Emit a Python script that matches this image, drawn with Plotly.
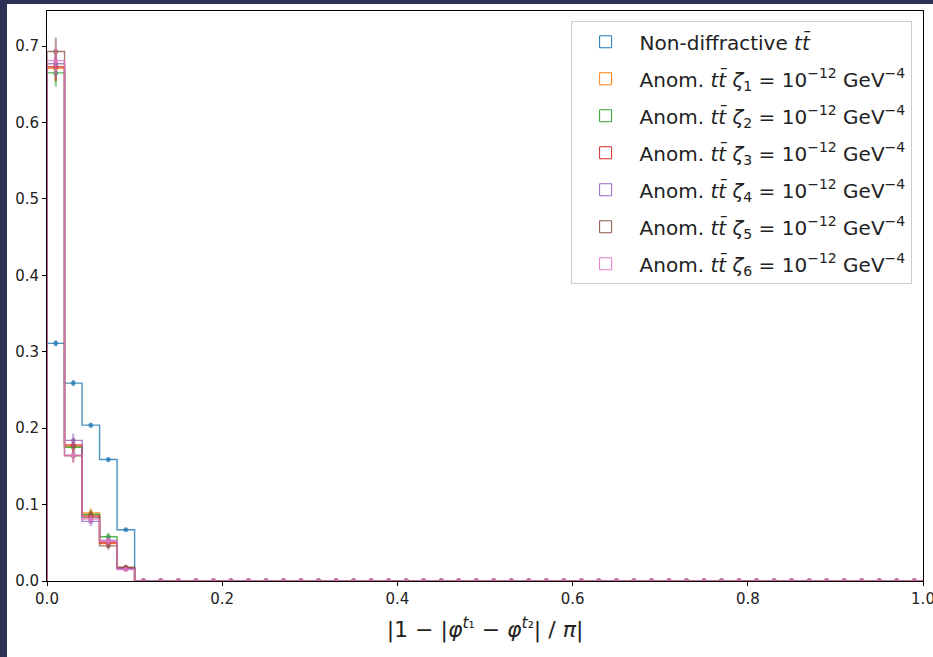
import numpy as np
import plotly.graph_objects as go

# ---- data ----
bin_edges = np.round(np.linspace(0.0, 1.0, 51), 4)
series_names = [
    "Non-diffractive <i>tt̄</i>",
    "Anom. <i>tt̄ ζ</i><sub>1</sub> = 10<sup>−12</sup> GeV<sup>−4</sup>",
    "Anom. <i>tt̄ ζ</i><sub>2</sub> = 10<sup>−12</sup> GeV<sup>−4</sup>",
    "Anom. <i>tt̄ ζ</i><sub>3</sub> = 10<sup>−12</sup> GeV<sup>−4</sup>",
    "Anom. <i>tt̄ ζ</i><sub>4</sub> = 10<sup>−12</sup> GeV<sup>−4</sup>",
    "Anom. <i>tt̄ ζ</i><sub>5</sub> = 10<sup>−12</sup> GeV<sup>−4</sup>",
    "Anom. <i>tt̄ ζ</i><sub>6</sub> = 10<sup>−12</sup> GeV<sup>−4</sup>",
]
colors = ["#1f77b4", "#ff7f0e", "#2ca02c", "#d62728", "#9467bd", "#8c564b", "#e377c2"]

# non-zero leading bins (remaining bins are zero)
nondiff_vals = [0.311, 0.259, 0.204, 0.159, 0.067]
zeta1_vals = [0.671, 0.176, 0.089, 0.049, 0.017]
zeta2_vals = [0.665, 0.175, 0.087, 0.058, 0.016]
zeta3_vals = [0.673, 0.178, 0.085, 0.050, 0.017]
zeta4_vals = [0.677, 0.184, 0.078, 0.053, 0.016]
zeta5_vals = [0.693, 0.164, 0.083, 0.046, 0.018]
zeta6_vals = [0.681, 0.165, 0.081, 0.052, 0.015]

nondiff_err = [0.004, 0.004, 0.003, 0.003, 0.002]
anom_err = [0.018, 0.009, 0.006, 0.005, 0.003]

all_vals = [nondiff_vals, zeta1_vals, zeta2_vals, zeta3_vals, zeta4_vals, zeta5_vals, zeta6_vals]
all_errs = [nondiff_err] + [anom_err] * 6

x_ticks = [0.0, 0.2, 0.4, 0.6, 0.8, 1.0]
y_ticks = [0.0, 0.1, 0.2, 0.3, 0.4, 0.5, 0.6, 0.7]

nbins = len(bin_edges) - 1
centers = 0.5 * (bin_edges[:-1] + bin_edges[1:])


def full(v):
    a = np.zeros(nbins)
    a[: len(v)] = v
    return a


def rgba(hexc, a):
    h = hexc.lstrip("#")
    r, g, b = int(h[0:2], 16), int(h[2:4], 16), int(h[4:6], 16)
    return f"rgba({r},{g},{b},{a})"


fig = go.Figure()

for name, col, vals, errs in zip(series_names, colors, all_vals, all_errs):
    h = full(vals)
    e = full(errs)
    # step outline (matplotlib histtype='step')
    sx = np.repeat(bin_edges, 2)
    sy = np.concatenate([[0.0], np.repeat(h, 2), [0.0]])
    fig.add_trace(go.Scatter(
        x=sx, y=sy, mode="lines",
        line=dict(color=rgba(col, 0.8), width=1.4),
        showlegend=False, legendgroup=name, hoverinfo="skip",
    ))
    # error bar points at bin centres
    fig.add_trace(go.Scatter(
        x=centers, y=h, mode="markers",
        marker=dict(color=rgba(col, 0.65), size=5),
        error_y=dict(type="data", array=e, visible=True, width=0,
                     thickness=2.2, color=rgba(col, 0.55)),
        showlegend=False, legendgroup=name,
    ))
    # legend entry (outlined patch)
    fig.add_trace(go.Bar(
        x=[None], y=[None], name=name, legendgroup=name,
        marker=dict(color="rgba(0,0,0,0)", line=dict(color=col, width=1)),
        showlegend=True,
    ))

L, R, T, B = 47, 10, 11, 76
W, H = 933, 657
pw, ph = W - L - R, H - T - B

fig.add_shape(
    type="rect", xref="paper", yref="paper", layer="below",
    x0=-(L - 7) / pw, x1=1 + (R + 5) / pw,
    y0=-(B + 5) / ph, y1=1 + (T - 4) / ph,
    fillcolor="white", line=dict(width=0),
)

axis_common = dict(
    showline=True, linecolor="black", linewidth=1, mirror=True,
    ticks="outside", ticklen=4, tickcolor="black", tickwidth=1,
    showgrid=False, zeroline=False, ticklabeloverflow="allow", automargin=False,
    tickfont=dict(family="DejaVu Sans", size=15, color="#222"),
)

fig.update_layout(
    width=W, height=H,
    margin=dict(l=L, r=R, t=T, b=B, autoexpand=False),
    paper_bgcolor="#2c3256",
    plot_bgcolor="white",
    font=dict(family="DejaVu Sans", color="#222"),
    barmode="overlay",
    xaxis=dict(range=[0, 1], tickvals=x_ticks, tickformat=".1f",
               title=dict(text="|1 − |<i>φ</i><sup><i>t</i>₁</sup> − <i>φ</i><sup><i>t</i>₂</sup>| / <i>π</i>|",
                          font=dict(size=22, family="DejaVu Sans", color="#222"), standoff=14),
               **axis_common),
    yaxis=dict(range=[0, 0.746], tickvals=y_ticks, tickformat=".1f", **axis_common),
    legend=dict(
        x=0.987, y=0.982, xanchor="right", yanchor="top",
        bgcolor="rgba(255,255,255,0.85)", bordercolor="#cccccc", borderwidth=1,
        font=dict(family="DejaVu Sans", size=20, color="#222"),
        traceorder="grouped", tracegroupgap=8, itemwidth=58,
    ),
    showlegend=True,
)

fig.write_html("out.html")
